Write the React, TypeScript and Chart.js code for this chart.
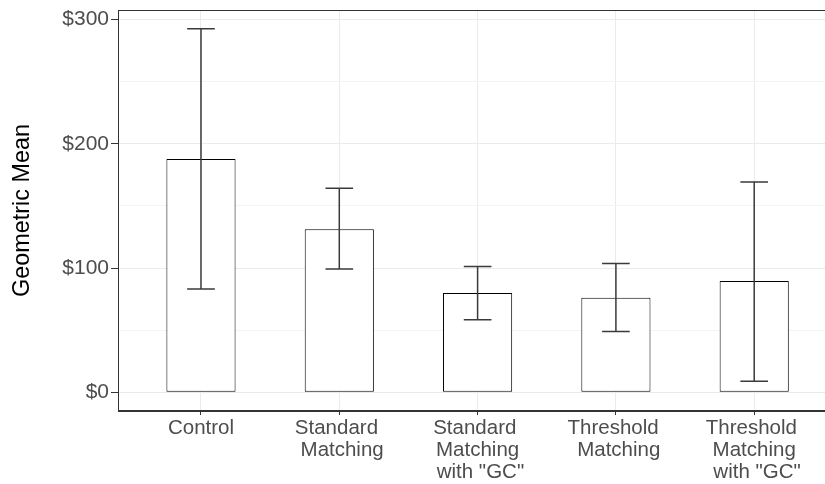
import React, { useEffect, useRef } from "react";
import { Chart, registerables } from "chart.js";
Chart.register(...registerables);

const categories: string[][] = [
  ["Control"],
  ["Standard ", " Matching"],
  ["Standard ", "Matching", ' with "GC"'],
  ["Threshold ", " Matching"],
  ["Threshold ", "Matching", ' with "GC"'],
];
const geoMeans = [187.8, 131.2, 79.9, 76.2, 89.6];
const errLow = [83.2, 99.3, 58.5, 48.9, 8.9];
const errHigh = [292.5, 164.2, 101.2, 103.6, 169.3];
const yTicks = [0, 50, 100, 150, 200, 250, 300];
const yTitle = "Geometric Mean";

const FONT = "'Liberation Sans', Arial, sans-serif";

export default function App() {
  const ref = useRef<HTMLCanvasElement | null>(null);

  useEffect(() => {
    if (!ref.current) return;

    const errorBars = {
      id: "errorBars",
      afterDatasetsDraw(chart: any) {
        const xs = chart.scales.x;
        const ys = chart.scales.y;
        const ctx = chart.ctx;
        ctx.save();
        ctx.strokeStyle = "#3a3a3a";
        ctx.lineWidth = 1.5;
        geoMeans.forEach((_, i) => {
          const x = xs.getPixelForValue(i);
          const half = xs.getPixelForValue(i + 0.1) - x;
          const yl = ys.getPixelForValue(errLow[i]);
          const yh = ys.getPixelForValue(errHigh[i]);
          ctx.beginPath();
          ctx.moveTo(x, yl);
          ctx.lineTo(x, yh);
          ctx.moveTo(x - half, yh);
          ctx.lineTo(x + half, yh);
          ctx.moveTo(x - half, yl);
          ctx.lineTo(x + half, yl);
          ctx.stroke();
        });
        ctx.restore();
      },
      afterDraw(chart: any) {
        const a = chart.chartArea;
        const ctx = chart.ctx;
        ctx.save();
        ctx.strokeStyle = "#333333";
        ctx.lineWidth = 1;
        ctx.strokeRect(a.left + 0.5, a.top + 0.5, a.right - a.left - 1, a.bottom - a.top - 1);
        ctx.restore();
      },
    };

    const chart = new Chart(ref.current, {
      type: "bar",
      data: {
        datasets: [
          {
            data: geoMeans.map((v, i) => ({ x: i, y: v })),
            backgroundColor: "#ffffff",
            borderColor: "#000000",
            borderWidth: 1,
            borderSkipped: false,
            barPercentage: 0.5,
            categoryPercentage: 1,
          } as any,
        ],
      },
      options: {
        animation: false,
        responsive: false,
        devicePixelRatio: 1,
        layout: { padding: { top: 10, right: 12.8, left: 0, bottom: 0 } },
        plugins: { legend: { display: false }, tooltip: { enabled: false } },
        scales: {
          x: {
            type: "linear",
            offset: false,
            min: -0.6,
            max: 4.6,
            afterBuildTicks: (s: any) => {
              s.ticks = categories.map((_, i) => ({ value: i }));
            },
            afterFit: (s: any) => {
              s.height = 73;
              s.paddingLeft = 0;
              s.paddingRight = 0;
            },
            ticks: {
              autoSkip: false,
              maxRotation: 0,
              minRotation: 0,
              padding: 2,
              color: "#4d4d4d",
              font: { family: FONT, size: 20.5, lineHeight: 1.08 },
              callback: (v: any) => categories[Math.round(Number(v))] ?? "",
            },
            grid: {
              offset: false,
              color: "#ebebeb",
              lineWidth: 1,
              tickColor: "#333333",
              tickLength: 4,
            },
            border: { display: true, color: "#333333", width: 1 },
          },
          y: {
            type: "linear",
            min: -15,
            max: 307.6,
            afterBuildTicks: (s: any) => {
              s.ticks = yTicks.map((v) => ({ value: v }));
            },
            afterFit: (s: any) => {
              s.width = 118;
              s.paddingTop = 0;
              s.paddingBottom = 0;
            },
            ticks: {
              padding: 2,
              color: "#4d4d4d",
              font: { family: FONT, size: 21 },
              callback: (v: any) => (Number(v) % 100 === 0 ? "$" + v : ""),
            },
            grid: {
              color: (c: any) => (c.tick && c.tick.value % 100 === 0 ? "#ebebeb" : "#f4f4f4"),
              lineWidth: 1,
              tickColor: (c: any) => (c.tick && c.tick.value % 100 === 0 ? "#333333" : "rgba(0,0,0,0)"),
              tickLength: 7,
            },
            border: { display: true, color: "#333333", width: 1 },
            title: {
              display: true,
              text: yTitle,
              color: "#000000",
              font: { family: FONT, size: 23.4, lineHeight: 1.2 },
              padding: { top: 8.5, bottom: 0 },
            },
          },
        },
      },
      plugins: [errorBars],
    });
    return () => chart.destroy();
  }, []);

  return (
    <div
      style={{
        position: "fixed",
        left: 0,
        top: 0,
        width: 825,
        height: 484,
        overflow: "hidden",
        background: "#ffffff",
      }}
    >
      <canvas ref={ref} width={850} height={484} style={{ display: "block", width: 850, height: 484 }} />
    </div>
  );
}
